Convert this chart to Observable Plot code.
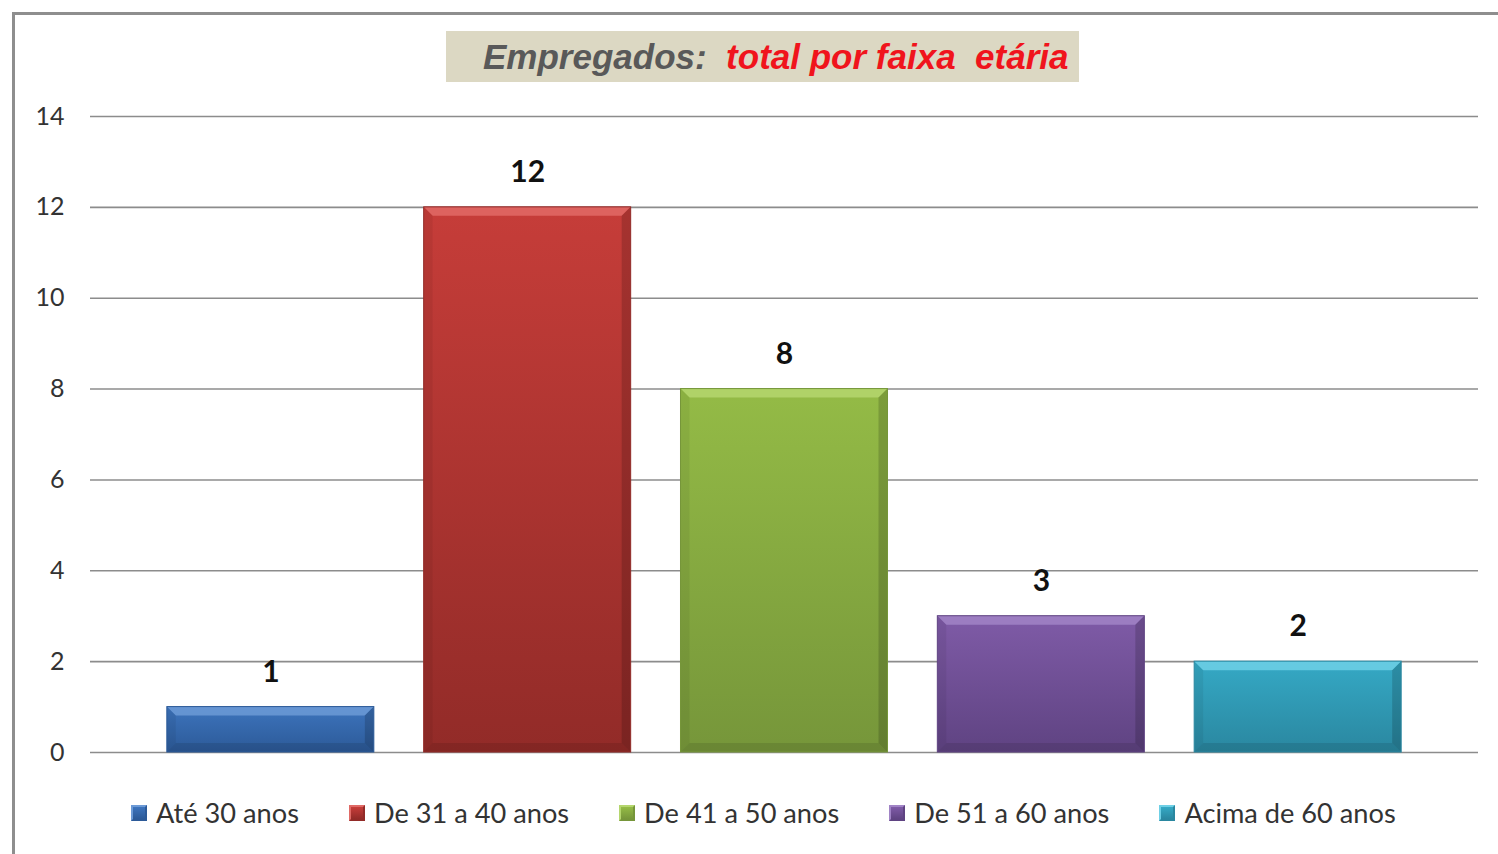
<!DOCTYPE html>
<html>
<head>
<meta charset="utf-8">
<script src="https://cdn.jsdelivr.net/npm/d3@7"></script>
<script src="https://cdn.jsdelivr.net/npm/@observablehq/plot@0.6"></script>
<style>
  html, body { margin: 0; padding: 0; background: #fff; overflow: hidden; }
  #wrap { position: relative; width: 1498px; height: 854px; overflow: hidden; }
  #frame { position: absolute; left: 12px; top: 12px; width: 1500px; height: 900px;
           border-left: 3px solid #8e8e8e; border-top: 3px solid #8e8e8e; box-sizing: border-box; }
  #title { position: absolute; left: 446px; top: 31px; width: 633px; height: 51px;
           background: #dcd8c3; box-sizing: border-box; padding-left: 37px;
           font-family: "Liberation Sans", Arial, sans-serif; font-style: italic; font-weight: bold;
           font-size: 35px; line-height: 51px; white-space: pre; color: #595959; }
  #title .red { color: #f0141c; }
  #chart { position: absolute; left: 0; top: 100px; }
  #legend { position: absolute; left: 131px; top: 796px; display: flex; align-items: center;
            font-family: Lato, "Open Sans", sans-serif; font-size: 27.2px; color: #333; white-space: nowrap; }
  .item { display: flex; align-items: center; margin-right: 50px; }
  .sw { width: 16px; height: 16px; margin-right: 9px; box-sizing: border-box; }
</style>
</head>
<body>
<div id="wrap">
  <div id="frame"></div>
  <div id="title">Empregados:  <span class="red">total por faixa  etária</span></div>
  <div id="chart"></div>
  <div id="legend"></div>
</div>
<script>
const categories = ["Até 30 anos", "De 31 a 40 anos", "De 41 a 50 anos", "De 51 a 60 anos", "Acima de 60 anos"];
const values = [1, 12, 8, 3, 2];
const yTicks = [0, 2, 4, 6, 8, 10, 12, 14];

const topColors = ["#3d74bd", "#c63d39", "#94bb46", "#7f5ba7", "#35a9c5"];
const bottomColors = ["#2c5a98", "#922b28", "#76963a", "#5f4382", "#2a87a0"];
const bevelColors = ["#6c9ad6", "#e06a66", "#b5d66e", "#a184c6", "#6fd0e6"];

const data = categories.map((c, i) => ({category: c, value: values[i]}));
const gradIds = categories.map((c, i) => `url(#g${i})`);

const chart = Plot.plot({
  width: 1498,
  height: 690,
  marginTop: 16,
  marginBottom: 38,
  marginLeft: 90,
  marginRight: 20,
  style: {fontFamily: "Lato, 'Open Sans', sans-serif", fontSize: "25px", color: "#333", background: "transparent"},
  x: {type: "band", domain: categories, range: [117, 1451], padding: 0.194, round: false, axis: null},
  y: {domain: [0, 14], ticks: yTicks, tickSize: 0, tickPadding: 26, label: null},
  color: {domain: categories, range: gradIds},
  marks: [
    Plot.ruleY(yTicks, {stroke: "#8c8c8c", strokeWidth: 1.6}),
    Plot.barY(data, {x: "category", y: "value", fill: "category"}),
    Plot.text(data, {x: "category", y: "value", text: d => String(d.value), dy: -35,
      fontSize: 30, fontWeight: "bold", fill: "#111"})
  ]
});

// gradients
const ns = "http://www.w3.org/2000/svg";
const defs = document.createElementNS(ns, "defs");
categories.forEach((c, i) => {
  const lg = document.createElementNS(ns, "linearGradient");
  lg.setAttribute("id", `g${i}`);
  lg.setAttribute("x1", "0"); lg.setAttribute("y1", "0");
  lg.setAttribute("x2", "0"); lg.setAttribute("y2", "1");
  [[0, topColors[i]], [1, bottomColors[i]]].forEach(([o, col]) => {
    const s = document.createElementNS(ns, "stop");
    s.setAttribute("offset", o); s.setAttribute("stop-color", col);
    lg.appendChild(s);
  });
  defs.appendChild(lg);
});
chart.insertBefore(defs, chart.firstChild);

// bevel overlays derived from rendered bars
const barGroup = chart.querySelector('g[aria-label="bar"]');
if (barGroup) {
  const rects = Array.from(barGroup.querySelectorAll("rect"));
  const overlay = document.createElementNS(ns, "g");
  rects.forEach((r, i) => {
    const x = +r.getAttribute("x"), y = +r.getAttribute("y");
    const w = +r.getAttribute("width"), h = +r.getAttribute("height");
    const b = Math.min(9, h / 3);
    const poly = (pts, fill, op) => {
      const p = document.createElementNS(ns, "polygon");
      p.setAttribute("points", pts.map(q => q.join(",")).join(" "));
      p.setAttribute("fill", fill);
      p.setAttribute("fill-opacity", op);
      overlay.appendChild(p);
    };
    poly([[x, y], [x + w, y], [x + w - b, y + b], [x + b, y + b]], bevelColors[i], 0.85);
    poly([[x, y], [x + b, y + b], [x + b, y + h - b], [x, y + h]], "#000", 0.06);
    poly([[x + w, y], [x + w - b, y + b], [x + w - b, y + h - b], [x + w, y + h]], "#000", 0.16);
    poly([[x, y + h], [x + b, y + h - b], [x + w - b, y + h - b], [x + w, y + h]], "#000", 0.1);
    const edge = document.createElementNS(ns, "rect");
    edge.setAttribute("x", x); edge.setAttribute("y", y);
    edge.setAttribute("width", w); edge.setAttribute("height", h);
    edge.setAttribute("fill", "none"); edge.setAttribute("stroke", bottomColors[i]);
    edge.setAttribute("stroke-width", 1);
    overlay.appendChild(edge);
  });
  barGroup.parentNode.insertBefore(overlay, barGroup.nextSibling);
}

document.getElementById("chart").appendChild(chart);

// legend
const legend = document.getElementById("legend");
categories.forEach((c, i) => {
  const item = document.createElement("div");
  item.className = "item";
  const sw = document.createElement("div");
  sw.className = "sw";
  sw.style.background = `linear-gradient(${topColors[i]}, ${bottomColors[i]})`;
  sw.style.border = `2px solid ${bevelColors[i]}`;
  sw.style.borderRightColor = bottomColors[i];
  sw.style.borderBottomColor = bottomColors[i];
  const t = document.createElement("span");
  t.textContent = c;
  item.appendChild(sw); item.appendChild(t);
  legend.appendChild(item);
});
</script>
</body>
</html>
